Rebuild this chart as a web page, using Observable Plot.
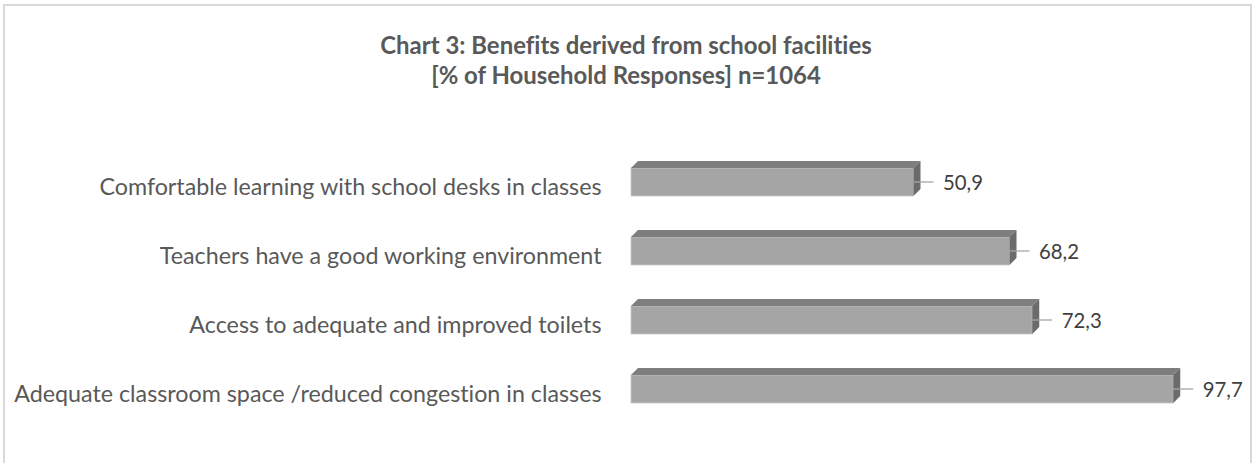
<!DOCTYPE html>
<html><head><meta charset="utf-8">
<script src="https://cdn.jsdelivr.net/npm/d3@7"></script>
<script src="https://cdn.jsdelivr.net/npm/@observablehq/plot@0.6"></script>
<style>
html,body{margin:0;padding:0;background:#fff;}
#wrap{position:relative;width:1252px;height:463px;overflow:hidden;font-variant-ligatures:none;}
#frame{position:absolute;left:3px;top:4px;width:1249px;height:480px;border:2px solid #d9d9d9;box-sizing:border-box;}
#title{position:absolute;left:0;top:30px;width:1252px;text-align:center;font-family:Lato,sans-serif;font-weight:bold;color:#595959;line-height:30px;}
#chart{position:absolute;left:0;top:110px;}
svg text{font-variant-ligatures:none;}
</style></head><body>
<div id="wrap"><div id="frame"></div><div id="title"></div><div id="chart"></div></div>
<script>
const categories = [
  "Comfortable learning with school desks in classes",
  "Teachers have a good working environment",
  "Access to adequate and improved toilets",
  "Adequate classroom space /reduced congestion in classes"
];
const values = [50.9, 68.2, 72.3, 97.7];
const valueLabels = ["50,9", "68,2", "72,3", "97,7"];
const titleLines = ["Chart 3: Benefits derived from school facilities", "[% of Household Responses] n=1064"];

const data = categories.map((c, i) => ({label: c, value: values[i], text: valueLabels[i]}));

const FONT = "Lato";
const cv = document.createElement("canvas").getContext("2d");
function fit(text, weight, target) {
  cv.font = `${weight} 100px ${FONT}`;
  return 100 * target / cv.measureText(text).width;
}
const labelSize = fit(categories[3], "normal", 588);
const valueSize = fit(valueLabels[0], "normal", 40);
const titleSize = fit(titleLines[0], "bold", 492);

const title = document.getElementById("title");
title.style.fontSize = titleSize + "px";
titleLines.forEach(t => { const d = document.createElement("div"); d.textContent = t; title.appendChild(d); });

const ns = "http://www.w3.org/2000/svg";
const D = 7;
function bar3d(index, scales, vals, dims, ctx, next) {
  const g = next(index, scales, vals, dims, ctx);
  for (const r of Array.from(g.querySelectorAll("rect"))) {
    const x = +r.getAttribute("x"), y = +r.getAttribute("y");
    const w = +r.getAttribute("width"), h = +r.getAttribute("height");
    const top = document.createElementNS(ns, "polygon");
    top.setAttribute("points", `${x},${y} ${x + w},${y} ${x + w + D},${y - D} ${x + D},${y - D}`);
    top.setAttribute("fill", "#7e7e7e");
    top.setAttribute("stroke", "none");
    const side = document.createElementNS(ns, "polygon");
    side.setAttribute("points", `${x + w},${y} ${x + w + D},${y - D} ${x + w + D},${y + h - D} ${x + w},${y + h}`);
    side.setAttribute("fill", "#6b6b6b");
    side.setAttribute("stroke", "none");
    const lead = document.createElementNS(ns, "line");
    lead.setAttribute("x1", x + w); lead.setAttribute("x2", x + w + 20);
    lead.setAttribute("y1", y + h / 2); lead.setAttribute("y2", y + h / 2);
    lead.setAttribute("stroke", "#a6a6a6");
    lead.setAttribute("stroke-width", 1.3);
    g.appendChild(top); g.appendChild(side); g.appendChild(lead);
  }
  return g;
}

const chart = Plot.plot({
  width: 1252,
  height: 353,
  marginLeft: 631,
  marginRight: 66,
  marginTop: 36.1,
  marginBottom: 38.1,
  style: {fontFamily: FONT, background: "transparent", overflow: "visible"},
  x: {domain: [0, 100], axis: null},
  y: {domain: categories, paddingInner: 0.6, paddingOuter: 0.3, label: null},
  marks: [
    Plot.axisY({tickSize: 0, tickPadding: 30, fontSize: labelSize, color: "#595959", dy: 5, label: null}),
    Plot.barX(data, {x: "value", y: "label", fill: "#a5a5a5", stroke: "#c8c8c8", strokeWidth: 0.8, render: bar3d}),
    Plot.text(data, {x: "value", y: "label", text: "text", dx: 29, dy: 1, textAnchor: "start", fontSize: valueSize, fill: "#404040"})
  ]
});
document.getElementById("chart").appendChild(chart);
</script>
</body></html>
